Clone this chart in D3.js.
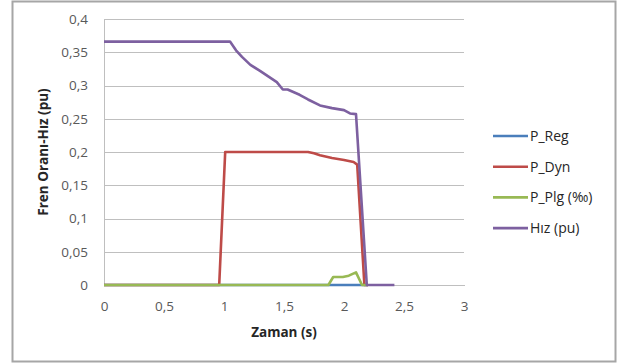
<!DOCTYPE html>
<html>
<head>
<meta charset="utf-8">
<script src="https://cdn.jsdelivr.net/npm/d3@7"></script>
<style>
  html, body { margin: 0; padding: 0; background: #fff; }
  svg { display: block; font-family: "Open Sans", "Liberation Sans", sans-serif; }
</style>
</head>
<body>
<svg id="chart" width="619" height="364"></svg>
<script>
// Braking ratio and speed versus time
const seriesNames = ["P_Reg", "P_Dyn", "P_Plg (‰)", "Hız (pu)"];
const seriesColors = ["#4A7EBB", "#BE4B48", "#98B954", "#7D60A0"];

const regTime = [0, 2.2];
const regValues = [0, 0];

const dynTime = [0, 0.96, 1.01, 1.7, 1.75, 1.8, 1.9, 2.0, 2.08, 2.11, 2.17, 2.2];
const dynValues = [0, 0, 0.2, 0.2, 0.198, 0.195, 0.191, 0.188, 0.185, 0.181, 0, 0];

const plgTime = [0, 1.87, 1.91, 1.99, 2.04, 2.1, 2.15, 2.2];
const plgValues = [0, 0, 0.012, 0.012, 0.014, 0.019, 0, 0];

const hizTime = [0, 1.05, 1.1, 1.15, 1.22, 1.3, 1.44, 1.49, 1.53, 1.63, 1.7, 1.8, 1.9, 2.0, 2.05, 2.1, 2.19, 2.42];
const hizValues = [0.366, 0.366, 0.353, 0.343, 0.331, 0.322, 0.305, 0.294, 0.294, 0.286, 0.279, 0.27, 0.266, 0.263, 0.258, 0.257, 0, 0];

const xTicks = [0, 0.5, 1, 1.5, 2, 2.5, 3];
const yTicks = [0, 0.05, 0.1, 0.15, 0.2, 0.25, 0.3, 0.35, 0.4];

const xTitle = "Zaman (s)";
const yTitle = "Fren Oranı-Hız (pu)";

const series = [
  { t: regTime, v: regValues },
  { t: dynTime, v: dynValues },
  { t: plgTime, v: plgValues },
  { t: hizTime, v: hizValues }
];

const fmt = d => String(d).replace(".", ",");

const svg = d3.select("#chart");
const plot = { left: 104, right: 464, top: 19, bottom: 285 };

// outer frame
svg.append("rect")
  .attr("x", 12.5).attr("y", 1.5)
  .attr("width", 603).attr("height", 360)
  .attr("fill", "#fff").attr("stroke", "#a6a6a6").attr("stroke-width", 2);

const x = d3.scaleLinear().domain([0, 3]).range([plot.left, plot.right]);
const y = d3.scaleLinear().domain([0, 0.4]).range([plot.bottom, plot.top]);

// horizontal gridlines
svg.append("g")
  .attr("transform", `translate(${plot.left},0)`)
  .call(d3.axisLeft(y).tickValues(yTicks).tickSize(-(plot.right - plot.left)).tickFormat(""))
  .call(g => g.select(".domain").remove())
  .call(g => g.selectAll("line").attr("stroke", "#bfbfbf").attr("stroke-width", 1)
    .attr("shape-rendering", "crispEdges"));

// y axis labels
svg.append("g")
  .attr("transform", `translate(${plot.left},0)`)
  .call(d3.axisLeft(y).tickValues(yTicks).tickSize(0).tickPadding(16).tickFormat(fmt))
  .call(g => g.select(".domain").attr("stroke", "#bfbfbf").attr("shape-rendering", "crispEdges"))
  .call(g => g.selectAll("text").attr("fill", "#595959").attr("font-size", 13.5)
    .attr("font-family", "\"Open Sans\", sans-serif"));

// x axis labels
svg.append("g")
  .attr("transform", `translate(0,${plot.bottom})`)
  .call(d3.axisBottom(x).tickValues(xTicks).tickSize(0).tickPadding(16).tickFormat(fmt))
  .call(g => g.select(".domain").attr("stroke", "#bfbfbf").attr("shape-rendering", "crispEdges"))
  .call(g => g.selectAll("text").attr("fill", "#595959").attr("font-size", 13.5)
    .attr("font-family", "\"Open Sans\", sans-serif"));

// axis titles
svg.append("text")
  .attr("x", (plot.left + plot.right) / 2).attr("y", 337)
  .attr("text-anchor", "middle").attr("font-weight", "bold").attr("font-size", 13.5)
  .attr("fill", "#262626").text(xTitle);

svg.append("text")
  .attr("transform", `translate(48,${(plot.top + plot.bottom) / 2}) rotate(-90)`)
  .attr("text-anchor", "middle").attr("font-weight", "bold").attr("font-size", 13.5)
  .attr("fill", "#262626").text(yTitle);

// series lines
const line = d3.line().x(d => x(d[0])).y(d => y(d[1]));
series.forEach((s, i) => {
  svg.append("path")
    .datum(s.t.map((t, k) => [t, s.v[k]]))
    .attr("d", line)
    .attr("fill", "none")
    .attr("stroke", seriesColors[i])
    .attr("stroke-width", 2.6)
    .attr("stroke-linejoin", "round");
});

// legend
const legend = svg.append("g").attr("transform", "translate(493,136)");
seriesNames.forEach((name, i) => {
  const g = legend.append("g").attr("transform", `translate(0,${i * 30.7})`);
  g.append("line").attr("x1", 0).attr("x2", 35).attr("y1", 0).attr("y2", 0)
    .attr("stroke", seriesColors[i]).attr("stroke-width", 2.6);
  g.append("text").attr("x", 37).attr("y", 0).attr("dy", "0.35em")
    .attr("font-size", 14).attr("fill", "#262626").text(name);
});
</script>
</body>
</html>
